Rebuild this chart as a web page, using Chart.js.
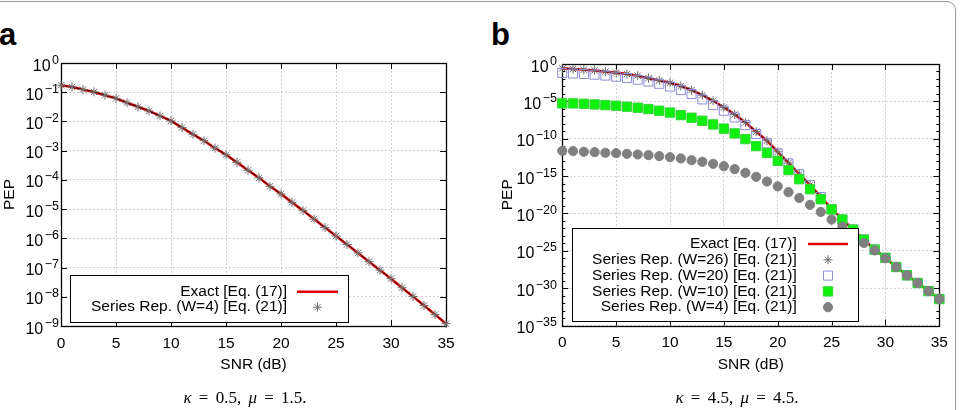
<!DOCTYPE html>
<html>
<head>
<meta charset="utf-8">
<script src="https://cdn.jsdelivr.net/npm/chart.js@4.4.1/dist/chart.umd.min.js"></script>
<style>
html, body { margin: 0; padding: 0; background: #fff; }
body { width: 960px; height: 410px; position: relative; overflow: hidden; font-family: "Liberation Sans", Arial, sans-serif; }
.frame { position: absolute; left: -20px; top: 1px; width: 976px; height: 440px; border: 1px solid #9a9a9a; border-radius: 9px; box-sizing: border-box; }
.panel { position: absolute; top: 0; width: 480px; height: 410px; }
.tag { position: absolute; top: 19px; font-size: 31px; font-weight: bold; line-height: 1; }
.cap { position: absolute; top: 389px; font-family: "Liberation Serif", "DejaVu Serif", serif; font-size: 17px; word-spacing: 3px; line-height: 1; transform: translateX(-50%); white-space: nowrap; }
</style>
</head>
<body>
<div class="frame"></div>
<div class="tag" style="left:-1px">a</div>
<div class="tag" style="left:491px">b</div>
<div class="panel" style="left:0"><canvas id="chartA" width="480" height="410"></canvas></div>
<div class="panel" style="left:480px"><canvas id="chartB" width="480" height="410"></canvas></div>
<div class="cap" style="left:245px"><i>κ</i> = 0.5, <i>μ</i> = 1.5.</div>
<div class="cap" style="left:737px"><i>κ</i> = 4.5, <i>μ</i> = 4.5.</div>
<script>
const snr = [0, 1, 2, 3, 4, 5, 6, 7, 8, 9, 10, 11, 12, 13, 14, 15, 16, 17,
  18, 19, 20, 21, 22, 23, 24, 25, 26, 27, 28, 29, 30, 31, 32, 33, 34, 35];
const xTicks = [0, 5, 10, 15, 20, 25, 30, 35];
const aYExps = [0, -1, -2, -3, -4, -5, -6, -7, -8, -9];
const bYExps = [0, -5, -10, -15, -20, -25, -30, -35];

// PEP, stored as powers of ten
const aExact = [-0.76, -0.82, -0.91, -0.99, -1.10, -1.21, -1.36, -1.50, -1.64, -1.81,
  -1.98, -2.21, -2.44, -2.66, -2.91, -3.14, -3.40, -3.67, -3.93, -4.22,
  -4.48, -4.77, -5.05, -5.34, -5.63, -5.92, -6.21, -6.50, -6.80, -7.09,
  -7.38, -7.69, -7.99, -8.30, -8.61, -8.92];
const aW4 = [-0.76, -0.82, -0.91, -0.99, -1.10, -1.21, -1.36, -1.50, -1.64, -1.81,
  -1.98, -2.21, -2.44, -2.66, -2.91, -3.14, -3.40, -3.67, -3.93, -4.22,
  -4.48, -4.77, -5.05, -5.34, -5.63, -5.92, -6.21, -6.50, -6.80, -7.09,
  -7.38, -7.69, -7.99, -8.30, -8.61, -8.92];

const bExact = [-0.58, -0.67, -0.76, -0.85, -1.03, -1.16, -1.34, -1.56, -1.90, -2.20,
  -2.52, -2.95, -3.49, -4.16, -4.92, -5.81, -6.75, -7.82, -9.07, -10.28,
  -11.75, -13.25, -14.75, -16.20, -17.80, -19.40, -20.80, -22.15, -23.50, -24.84,
  -25.95, -27.17, -28.28, -29.31, -30.39, -31.46];
const bW26 = [-0.58, -0.67, -0.76, -0.85, -1.03, -1.16, -1.34, -1.56, -1.90, -2.20,
  -2.52, -2.95, -3.49, -4.16, -4.92, -5.81, -6.75, -7.82, -9.07, -10.28,
  -11.75, -13.25, -14.75, -16.20, -17.80, -19.40, -20.80, -22.15, -23.50, -24.84,
  -25.95, -27.17, -28.28, -29.31, -30.39, -31.46];
const bW20 = [-1.20, -1.27, -1.34, -1.43, -1.55, -1.70, -1.88, -2.10, -2.35, -2.65,
  -3.02, -3.49, -4.02, -4.74, -5.50, -6.26, -7.15, -8.18, -9.38, -10.63,
  -11.97, -13.31, -14.75, -16.20, -17.80, -19.45, -20.82, -22.16, -23.50, -24.84,
  -25.95, -27.17, -28.28, -29.31, -30.39, -31.46];
const bW10 = [-5.27, -5.27, -5.32, -5.41, -5.50, -5.59, -5.72, -5.85, -6.03, -6.26,
  -6.50, -6.84, -7.19, -7.60, -8.09, -8.65, -9.29, -10.05, -10.99, -11.90,
  -12.96, -14.20, -15.42, -16.76, -18.10, -19.46, -20.82, -22.16, -23.50, -24.84,
  -25.95, -27.17, -28.28, -29.31, -30.39, -31.46];
const bW4 = [-11.62, -11.66, -11.75, -11.80, -11.88, -11.93, -12.02, -12.11, -12.20, -12.33,
  -12.47, -12.64, -12.87, -13.09, -13.36, -13.67, -14.07, -14.57, -15.10, -15.73,
  -16.38, -17.15, -17.93, -18.85, -19.80, -20.82, -21.75, -22.90, -23.95, -24.95,
  -26.00, -27.17, -28.28, -29.31, -30.39, -31.46];

const FONT = '"Liberation Sans", Arial, sans-serif';

function pts(exps) {
  return snr.map((x, i) => ({ x: x, y: Math.pow(10, exps[i]) }));
}

function drawMarker(ctx, style, x, y, r, fill, stroke) {
  ctx.save();
  ctx.lineWidth = 1;
  ctx.strokeStyle = stroke;
  ctx.fillStyle = fill;
  ctx.beginPath();
  if (style === 'star') {
    const d = r * Math.SQRT1_2;
    ctx.moveTo(x - r, y); ctx.lineTo(x + r, y);
    ctx.moveTo(x, y - r); ctx.lineTo(x, y + r);
    ctx.moveTo(x - d, y - d); ctx.lineTo(x + d, y + d);
    ctx.moveTo(x - d, y + d); ctx.lineTo(x + d, y - d);
    ctx.stroke();
  } else if (style === 'rect') {
    const s = r * Math.SQRT1_2;
    ctx.rect(x - s, y - s, 2 * s, 2 * s);
    ctx.fill();
    ctx.stroke();
  } else {
    ctx.arc(x, y, r, 0, Math.PI * 2);
    ctx.fill();
    ctx.stroke();
  }
  ctx.restore();
}

// gnuplot style box with inward ticks on all four sides
const frameTicks = {
  id: 'frameTicks',
  beforeDatasetsDraw(chart, args, opts) {
    const { ctx, chartArea: a, scales } = chart;
    const x = scales.x, y = scales.y;
    ctx.save();
    ctx.strokeStyle = '#000';
    ctx.lineWidth = 1;
    ctx.beginPath();
    x.ticks.forEach(t => {
      const px = Math.round(x.getPixelForValue(t.value)) + 0.5;
      ctx.moveTo(px, a.bottom); ctx.lineTo(px, a.bottom - 6);
      ctx.moveTo(px, a.top); ctx.lineTo(px, a.top + 6);
    });
    y.ticks.forEach(t => {
      const py = Math.round(y.getPixelForValue(t.value)) + 0.5;
      ctx.moveTo(a.left, py); ctx.lineTo(a.left + 6, py);
      ctx.moveTo(a.right, py); ctx.lineTo(a.right - 6, py);
    });
    (opts.minor || []).forEach(e => {
      const py = Math.round(y.getPixelForValue(Math.pow(10, e))) + 0.5;
      ctx.moveTo(a.left, py); ctx.lineTo(a.left + 3, py);
      ctx.moveTo(a.right, py); ctx.lineTo(a.right - 3, py);
    });
    ctx.stroke();
    ctx.lineWidth = 1.3;
    ctx.strokeRect(Math.round(a.left) + 0.5, Math.round(a.top) + 0.5,
      Math.round(a.right - a.left), Math.round(a.bottom - a.top));
    ctx.restore();
  }
};

// "10" with a raised exponent, right aligned left of the axis
const powLabels = {
  id: 'powLabels',
  afterDraw(chart, args, o) {
    const { ctx, scales: { y } } = chart;
    ctx.save();
    ctx.fillStyle = '#000';
    ctx.textAlign = 'left';
    ctx.textBaseline = 'alphabetic';
    y.ticks.forEach(t => {
      const e = Math.round(Math.log10(t.value));
      const exp = e < 0 ? '\u2212' + (-e) : String(e);
      const py = y.getPixelForValue(t.value);
      ctx.font = '16px ' + FONT;
      const w1 = ctx.measureText('10').width;
      ctx.font = '12.5px ' + FONT;
      const w2 = ctx.measureText(exp).width;
      const x0 = o.right - w1 - w2 - 1.5;
      ctx.font = '16px ' + FONT;
      ctx.fillText('10', x0, py + 7.5);
      ctx.font = '12.5px ' + FONT;
      ctx.fillText(exp, x0 + w1 + 1.5, py + 0.5);
    });
    ctx.restore();
  }
};

// boxed key, labels right aligned with the sample on their right
const boxKey = {
  id: 'boxKey',
  afterDatasetsDraw(chart, args, o) {
    const ctx = chart.ctx;
    ctx.save();
    ctx.fillStyle = '#fff';
    ctx.fillRect(o.x, o.y, o.w, o.h);
    ctx.strokeStyle = '#000';
    ctx.lineWidth = 1;
    ctx.strokeRect(o.x + 0.5, o.y + 0.5, o.w, o.h);
    ctx.font = '15.5px ' + FONT;
    ctx.textAlign = 'right';
    ctx.textBaseline = 'middle';
    chart.data.datasets.forEach((d, i) => {
      const cy = o.row0 + i * o.rowH;
      ctx.fillStyle = '#000';
      ctx.fillText(d.label, o.textRight, cy);
      if (d.keyKind === 'line') {
        ctx.strokeStyle = d.borderColor;
        ctx.lineWidth = d.borderWidth;
        ctx.beginPath();
        ctx.moveTo(o.sample[0], cy); ctx.lineTo(o.sample[1], cy);
        ctx.stroke();
      } else {
        drawMarker(ctx, d.pointStyle, (o.sample[0] + o.sample[1]) / 2, cy,
          d.pointRadius, d.pointBackgroundColor, d.pointBorderColor);
      }
    });
    ctx.restore();
  }
};

function baseOptions(yMinExp, yTicks, pad, yWidth, xHeight, yTitlePad, labelRight, key, minor) {
  return {
    responsive: false,
    animation: false,
    events: [],
    layout: { padding: pad },
    plugins: {
      legend: { display: false },
      tooltip: { enabled: false },
      frameTicks: { minor: minor },
      powLabels: { right: labelRight },
      boxKey: key
    },
    scales: {
      x: {
        type: 'linear',
        min: 0, max: 35,
        afterBuildTicks: s => { s.ticks = xTicks.map(v => ({ value: v })); },
        afterFit: s => { s.height = xHeight; },
        grid: { color: '#d2d2d2', lineWidth: 1, drawTicks: false },
        border: { display: false, dash: [2, 2] },
        ticks: { color: '#000', padding: 8, font: { family: FONT, size: 15.5 } },
        title: { display: true, text: 'SNR (dB)', color: '#000', padding: 0, font: { family: FONT, size: 15.5 } }
      },
      y: {
        type: 'logarithmic',
        min: Math.pow(10, yMinExp), max: 1,
        afterBuildTicks: s => { s.ticks = yTicks.map(e => ({ value: Math.pow(10, e) })); },
        afterFit: s => { s.width = yWidth; },
        grid: { color: '#d2d2d2', lineWidth: 1, drawTicks: false },
        border: { display: false, dash: [2, 2] },
        ticks: { display: false },
        title: { display: true, text: 'PEP', color: '#000', padding: { top: yTitlePad, bottom: 0 }, font: { family: FONT, size: 15.5 } }
      }
    }
  };
}

new Chart(document.getElementById('chartA'), {
  type: 'line',
  data: {
    datasets: [
      {
        label: 'Exact [Eq. (17)]', data: pts(aExact), keyKind: 'line',
        borderColor: '#e00000', borderWidth: 2.6, pointRadius: 0, clip: false, order: 2
      },
      {
        label: 'Series Rep. (W=4) [Eq. (21)]', data: pts(aW4), keyKind: 'point',
        showLine: true, borderColor: 'rgba(40,0,0,0.85)', borderWidth: 1,
        pointStyle: 'star', pointRadius: 4.5, pointBorderWidth: 1,
        pointBorderColor: '#707070', pointBackgroundColor: '#707070', clip: false, order: 1
      }
    ]
  },
  options: baseOptions(-9, aYExps, { left: 0, top: 63, right: 34, bottom: 35.6 }, 61, 48.4, 0, 59,
    { x: 70, y: 275, w: 278, h: 47, textRight: 287, sample: [297, 338], row0: 291.7, rowH: 15.5 }, []),
  plugins: [frameTicks, powLabels, boxKey]
});

const bMinor = [];
for (let e = -1; e > -35; e--) if (e % 5 !== 0) bMinor.push(e);

new Chart(document.getElementById('chartB'), {
  type: 'line',
  data: {
    datasets: [
      {
        label: 'Exact [Eq. (17)]', data: pts(bExact), keyKind: 'line',
        borderColor: '#e00000', borderWidth: 2.6, pointRadius: 0, clip: false, order: 5
      },
      {
        label: 'Series Rep. (W=26) [Eq. (21)]', data: pts(bW26), keyKind: 'point',
        showLine: true, borderColor: 'rgba(40,0,0,0.85)', borderWidth: 1,
        pointStyle: 'star', pointRadius: 4.5, pointBorderWidth: 1,
        pointBorderColor: '#6a6a6a', pointBackgroundColor: '#6a6a6a', clip: false, order: 4
      },
      {
        label: 'Series Rep. (W=20) [Eq. (21)]', data: pts(bW20), keyKind: 'point',
        showLine: false, pointStyle: 'rect', pointRadius: 6.4, pointBorderWidth: 1,
        pointBorderColor: '#8c8cd8', pointBackgroundColor: 'rgba(255,255,255,0)', clip: false, order: 3
      },
      {
        label: 'Series Rep. (W=10) [Eq. (21)]', data: pts(bW10), keyKind: 'point',
        showLine: false, pointStyle: 'rect', pointRadius: 6.6, pointBorderWidth: 1,
        pointBorderColor: '#33d633', pointBackgroundColor: '#10f010', clip: false, order: 2
      },
      {
        label: 'Series Rep. (W=4) [Eq. (21)]', data: pts(bW4), keyKind: 'point',
        showLine: false, pointStyle: 'circle', pointRadius: 4.6, pointBorderWidth: 1,
        pointBorderColor: '#808080', pointBackgroundColor: '#808080', clip: false, order: 1
      }
    ]
  },
  options: baseOptions(-35, bYExps, { left: 0, top: 64, right: 20.7, bottom: 35.6 }, 82.3, 48.9, 18.6, 77,
    { x: 92, y: 228, w: 286, h: 93, textRight: 316.7, sample: [328, 368], row0: 244, rowH: 15.8 }, bMinor),
  plugins: [frameTicks, powLabels, boxKey]
});
</script>
</body>
</html>
